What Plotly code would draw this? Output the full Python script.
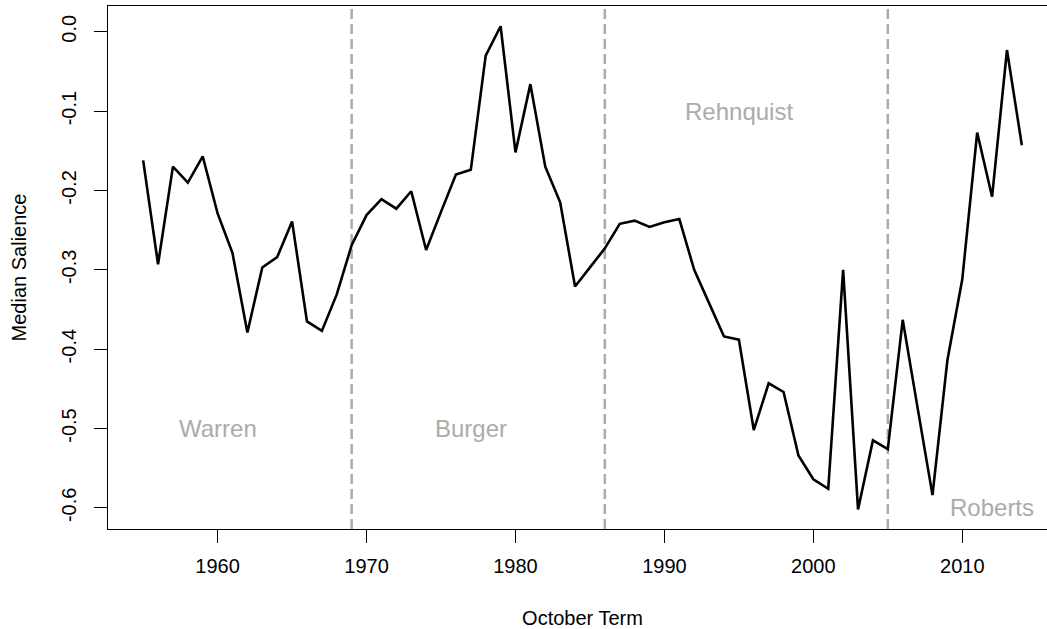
import plotly.graph_objects as go

years = list(range(1955, 2015))
salience = [
    -0.162, -0.293, -0.170, -0.190, -0.157, -0.229, -0.279, -0.379, -0.297, -0.284,
    -0.239, -0.365, -0.377, -0.331, -0.269, -0.231, -0.211, -0.223, -0.201, -0.275,
    -0.227, -0.180, -0.174, -0.030, 0.007, -0.152, -0.066, -0.170, -0.215, -0.321,
    -0.297, -0.273, -0.242, -0.238, -0.246, -0.240, -0.236, -0.300, -0.342, -0.384,
    -0.388, -0.502, -0.443, -0.454, -0.534, -0.564, -0.576, -0.300, -0.602, -0.515,
    -0.526, -0.363, -0.474, -0.584, -0.414, -0.312, -0.127, -0.208, -0.023, -0.143,
]

era_boundaries = [1969, 1986, 2005]
era_names = ["Warren", "Burger", "Rehnquist", "Roberts"]
era_label_x = [1960, 1977, 1995, 2012]
era_label_y = [-0.5, -0.5, -0.1, -0.6]

x_ticks = [1960, 1970, 1980, 1990, 2000, 2010]
y_ticks = [0.0, -0.1, -0.2, -0.3, -0.4, -0.5, -0.6]

FONT = "Liberation Sans, Arial, Helvetica, sans-serif"
GRAY = "#ababab"

fig = go.Figure()
fig.add_trace(go.Scatter(
    x=years, y=salience, mode="lines",
    line=dict(color="black", width=2.6),
    showlegend=False, hoverinfo="x+y",
))

for b in era_boundaries:
    fig.add_vline(x=b, line=dict(color=GRAY, width=2.5, dash="10px,5px"), layer="below")

for name, lx, ly in zip(era_names, era_label_x, era_label_y):
    fig.add_annotation(x=lx, y=ly, text=name, showarrow=False,
                       font=dict(family=FONT, size=24, color=GRAY),
                       xanchor="center", yanchor="middle")

fig.update_layout(
    width=1060, height=629,
    margin=dict(l=108, r=3, t=6, b=98),
    plot_bgcolor="white", paper_bgcolor="white",
    font=dict(family=FONT, size=20, color="black"),
    xaxis=dict(
        range=[1952.64, 2016.36], tickvals=x_ticks,
        ticktext=[str(v) for v in x_ticks],
        showgrid=False, zeroline=False,
        showline=True, linecolor="black", linewidth=1.3, mirror=True,
        ticks="outside", ticklen=13, tickwidth=1.3, tickcolor="black",
        ticklabelstandoff=6,
        title=dict(text="October Term", standoff=35, font=dict(size=20)),
        tickfont=dict(size=20),
    ),
    yaxis=dict(
        range=[-0.6267, 0.0325], tickvals=y_ticks,
        ticktext=[f"{v:.1f}" for v in y_ticks],
        tickangle=-90,
        showgrid=False, zeroline=False,
        showline=True, linecolor="black", linewidth=1.3,
        ticks="outside", ticklen=13, tickwidth=1.3, tickcolor="black",
        ticklabelstandoff=10,
        title=dict(text="Median Salience", standoff=25, font=dict(size=20)),
        tickfont=dict(size=20),
    ),
)

fig.write_html(
    "out.html",
    config={"displayModeBar": False},
    post_script="document.body.style.margin='0';document.body.style.overflow='hidden';"
                "document.documentElement.style.overflow='hidden';",
)
